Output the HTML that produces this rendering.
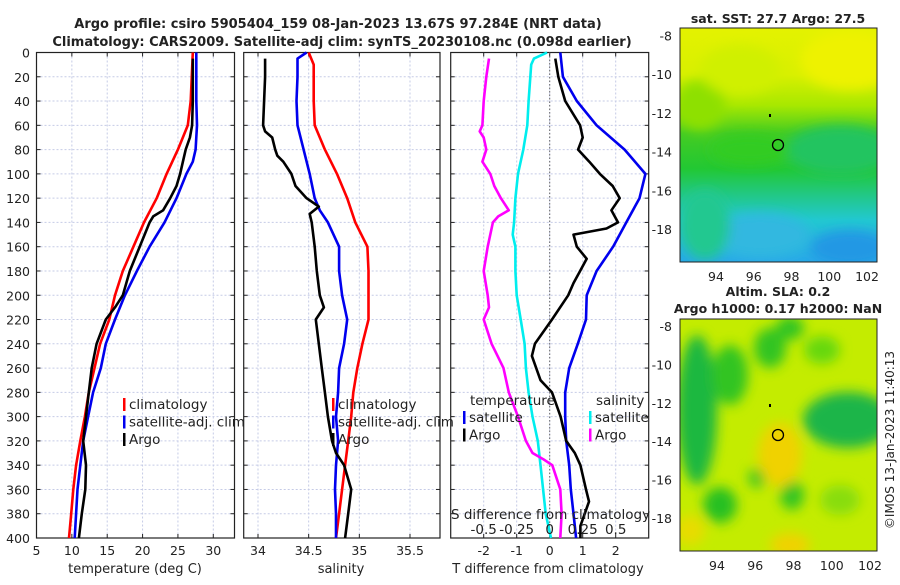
<!DOCTYPE html>
<html><head><meta charset="utf-8"><style>
body{margin:0;background:#fff;width:900px;height:580px;overflow:hidden}
svg text{font-family:"DejaVu Sans","Liberation Sans",sans-serif;fill:#222}
</style></head><body>
<svg id="c" width="900" height="580" viewBox="0 0 900 580">
<defs>
<filter id="bl" x="-20%" y="-20%" width="140%" height="140%"><feGaussianBlur stdDeviation="6"/></filter>
<clipPath id="m1"><rect x="680" y="28" width="197" height="234"/></clipPath>
<clipPath id="m2"><rect x="680" y="319" width="197" height="232"/></clipPath>
<linearGradient id="g1" x1="0" y1="0" x2="0" y2="1">
<stop offset="0" stop-color="#e4f200"/><stop offset="0.2" stop-color="#d8f000"/><stop offset="0.33" stop-color="#a8e800"/><stop offset="0.45" stop-color="#44cc22"/><stop offset="0.6" stop-color="#22c833"/><stop offset="0.72" stop-color="#22c88a"/><stop offset="0.82" stop-color="#22c8d0"/><stop offset="1" stop-color="#28a8e8"/></linearGradient>
</defs>
<text x="338" y="28" text-anchor="middle" font-size="13" font-weight="bold">Argo profile: csiro 5905404_159 08-Jan-2023 13.67S 97.284E (NRT data)</text>
<text x="342" y="46" text-anchor="middle" font-size="13" font-weight="bold">Climatology: CARS2009. Satellite-adj clim: synTS_20230108.nc (0.098d earlier)</text>
<g id="plots"></g>
<g>
<text x="778" y="23" text-anchor="middle" font-size="12.5" font-weight="bold">sat. SST: 27.7 Argo: 27.5</text>
<g clip-path="url(#m1)">
<rect x="680" y="28" width="197" height="234" fill="url(#g1)"/>
<g filter="url(#bl)">
<ellipse cx="700" cy="105" rx="25" ry="25" fill="#8ee000"/>
<ellipse cx="850" cy="60" rx="50" ry="30" fill="#eef200"/>
<ellipse cx="740" cy="70" rx="40" ry="25" fill="#d0f000"/>
<ellipse cx="840" cy="150" rx="55" ry="25" fill="#22c460"/>
<ellipse cx="750" cy="150" rx="40" ry="15" fill="#33cc22"/>
<ellipse cx="760" cy="235" rx="50" ry="22" fill="#30b8e0"/>
<ellipse cx="850" cy="248" rx="40" ry="18" fill="#2298e4"/>
<ellipse cx="705" cy="225" rx="25" ry="35" fill="#22c890"/>
</g></g>
<rect x="680" y="28" width="197" height="234" fill="none" stroke="#222"/>
<circle cx="778" cy="145" r="5.5" fill="none" stroke="#000" stroke-width="1.3"/>
<rect x="769" y="114" width="2" height="3" fill="#000"/>
</g>
<g>
<text x="778" y="296" text-anchor="middle" font-size="12.5" font-weight="bold">Altim. SLA: 0.2</text>
<text x="778" y="313" text-anchor="middle" font-size="12.5" font-weight="bold">Argo h1000: 0.17 h2000: NaN</text>
<g clip-path="url(#m2)">
<rect x="680" y="319" width="197" height="232" fill="#c4ec00"/>
<g filter="url(#bl)">
<ellipse cx="697" cy="410" rx="20" ry="75" fill="#1fb840"/>
<ellipse cx="730" cy="375" rx="18" ry="30" fill="#33c422"/>
<ellipse cx="770" cy="348" rx="16" ry="20" fill="#33c422"/>
<ellipse cx="790" cy="328" rx="14" ry="12" fill="#33c422"/>
<ellipse cx="822" cy="350" rx="18" ry="14" fill="#66d811"/>
<ellipse cx="848" cy="420" rx="45" ry="28" fill="#1fb548"/>
<ellipse cx="720" cy="505" rx="17" ry="18" fill="#28c022"/>
<ellipse cx="792" cy="495" rx="12" ry="15" fill="#33c422"/>
<ellipse cx="757" cy="478" rx="9" ry="10" fill="#44c822"/>
<ellipse cx="780" cy="455" rx="22" ry="32" fill="#f0d200"/>
<ellipse cx="790" cy="545" rx="20" ry="12" fill="#f0d200"/>
<ellipse cx="690" cy="530" rx="15" ry="15" fill="#e8dc00"/>
<ellipse cx="840" cy="500" rx="20" ry="15" fill="#88dd11"/>
</g></g>
<rect x="680" y="319" width="197" height="232" fill="none" stroke="#222"/>
<circle cx="778" cy="435" r="5.5" fill="none" stroke="#000" stroke-width="1.3"/>
<rect x="769" y="404" width="2" height="3" fill="#000"/>
</g>
<text transform="translate(894,440) rotate(-90)" text-anchor="middle" font-size="12">©IMOS 13-Jan-2023 11:40:13</text>
</svg>
<script>
const depthTicks=[0,20,40,60,80,100,120,140,160,180,200,220,240,260,280,300,320,340,360,380,400];
const tempTicks=[5,10,15,20,25,30];
const salTicks=[34,34.5,35,35.5];
const salTickLabels=["34","34.5","35","35.5"];
const diffTicks=[-2,-1,0,1,2];
const sdiffTicks=[-0.5,-0.25,0,0.25,0.5];
const sdiffTickLabels=["-0.5","-0.25","0","0.25","0.5"];
const latTicks=[-8,-10,-12,-14,-16,-18];
const lonTicks=[94,96,98,100,102];
const climTD=[0,40,60,80,100,120,140,160,180,200,220,240,260,280,300,320,340,360,380,400];
const climT=[27.1,26.8,26.4,25,23.4,22,20.2,18.7,17.2,16.1,15.3,14.0,13.2,12.4,11.85,11.2,10.6,10.2,9.9,9.6];
const satTD=[0,40,60,80,90,100,120,140,160,180,200,220,240,260,280,300,320,340,360,380,400];
const satT=[27.6,27.6,27.7,27.5,27.1,26.2,24.8,23.1,21,19.2,17.5,16.1,14.8,14.1,13,12.3,11.6,11.2,10.8,10.6,10.4];
const argoTD=[5,40,60,70,80,90,100,110,120,130,135,140,160,180,200,210,220,240,260,280,300,320,335,340,360,380,400];
const argoT=[27.1,27.1,27.0,26.7,26.1,25.7,25.3,24.8,23.9,22.9,21.5,21,19.6,18.2,17.2,16.1,14.8,13.5,12.8,12.4,12,11.6,11.9,12,11.9,11.4,11];
const climSD=[0,10,40,60,80,100,120,140,160,180,200,220,240,260,280,300,320,340,360,380,400];
const climS=[34.5,34.55,34.55,34.56,34.66,34.78,34.88,34.96,35.08,35.09,35.09,35.09,35.03,34.98,34.94,34.92,34.89,34.86,34.83,34.8,34.77];
const satSD=[0,5,20,40,60,80,100,120,130,140,160,180,200,220,240,260,280,300,320,340,360,380,400];
const satS=[34.48,34.39,34.39,34.38,34.39,34.45,34.51,34.56,34.61,34.69,34.8,34.8,34.83,34.88,34.85,34.8,34.79,34.77,34.79,34.77,34.76,34.77,34.77];
const argoSD=[5,20,60,65,70,80,85,90,100,110,120,127,133,140,160,180,200,210,220,240,260,280,300,320,330,340,360,380,400];
const argoS=[34.07,34.07,34.05,34.07,34.14,34.17,34.19,34.25,34.33,34.37,34.48,34.6,34.51,34.53,34.56,34.58,34.61,34.65,34.57,34.6,34.63,34.66,34.69,34.73,34.77,34.85,34.92,34.89,34.86];
const dSatTD=[0,20,40,60,80,100,120,140,160,180,200,220,240,260,280,300,320,340,360,380,400];
const dSatT=[0.32,0.4,0.82,1.42,2.27,2.9,2.72,2.32,1.92,1.42,1.12,1.1,0.85,0.59,0.47,0.47,0.5,0.59,0.64,0.72,0.8];
const dArgoTD=[5,20,40,60,70,80,90,100,110,120,130,140,145,150,160,170,180,190,200,220,240,250,270,280,300,320,330,340,360,370,390,400];
const dArgoT=[0.17,0.26,0.47,0.92,1.0,0.86,1.2,1.52,1.91,2.12,1.87,2.07,1.72,0.72,0.82,1.12,0.92,0.72,0.56,0.07,-0.45,-0.54,-0.28,0.07,0.33,0.5,0.76,0.93,1.1,1.19,0.93,0.93];
const dSatSD=[0,5,10,40,60,80,100,120,140,150,160,180,200,220,240,260,280,300,320,340,360,380,400];
const dSatS=[-0.02,-0.12,-0.14,-0.16,-0.17,-0.2,-0.24,-0.26,-0.27,-0.28,-0.26,-0.26,-0.25,-0.22,-0.19,-0.18,-0.16,-0.13,-0.09,-0.07,-0.05,-0.03,0.01];
const dArgoSD=[5,20,40,60,65,70,80,90,100,110,120,130,135,140,160,180,200,210,220,240,260,280,300,320,330,335,340,350,360,380,400];
const dArgoS=[-0.46,-0.48,-0.5,-0.51,-0.53,-0.5,-0.48,-0.51,-0.45,-0.42,-0.37,-0.31,-0.39,-0.43,-0.47,-0.5,-0.47,-0.46,-0.5,-0.44,-0.35,-0.31,-0.24,-0.18,-0.13,-0.05,0.02,0.05,0.08,0.09,0.08];

const NS='http://www.w3.org/2000/svg';
const root=document.getElementById('plots');
function mk(tag,at,parent){const e=document.createElementNS(NS,tag);for(const k in at)e.setAttribute(k,at[k]);(parent||root).appendChild(e);return e;}
const Y0=52.5,Y1=538;
const yD=d=>Y0+(Y1-Y0)*d/400;
function lin(d0,d1,p0,p1){return v=>p0+(v-d0)*(p1-p0)/(d1-d0);}
const P=[
 {x0:36.5,x1:234.5,sx:lin(5,33,36.5,234.5),name:'temperature-panel'},
 {x0:243.7,x1:440,sx:lin(34,35.5,258,410),name:'salinity-panel'},
 {x0:450.7,x1:648.7,sx:lin(-3,3,450.7,648.7),name:'difference-panel'}];
const sxS=lin(-0.75,0.75,450.7,648.7);

function txt(x,y,s,o,name){const t=mk('text',Object.assign({x:x,y:y,'font-size':12.5},o||{}));t.textContent=s;

return t;}

function panelFrame(p,xt,xl){
 const g=mk('g',{});
 
 
 depthTicks.forEach(d=>{const l=mk('line',{x1:p.x0,x2:p.x1,y1:yD(d),y2:yD(d),stroke:'#c5cbe6','stroke-dasharray':'2,2','stroke-width':1},g);
  
  
  mk('line',{x1:p.x0,x2:p.x0+4,y1:yD(d),y2:yD(d),stroke:'#222'},g);mk('line',{x1:p.x1-4,x2:p.x1,y1:yD(d),y2:yD(d),stroke:'#222'},g);});
 xt.forEach((v,i)=>{const x=p.sx(v);const l=mk('line',{x1:x,x2:x,y1:Y0,y2:Y1,stroke:'#c5cbe6','stroke-dasharray':'2,2'},g);
  
  
  mk('line',{x1:x,x2:x,y1:Y1-4,y2:Y1,stroke:'#222'},g);mk('line',{x1:x,x2:x,y1:Y0,y2:Y0+4,stroke:'#222'},g);
  txt(x,555,xl[i],{'text-anchor':'middle'},'x-tick-label');});
 const r=mk('rect',{x:p.x0,y:Y0,width:p.x1-p.x0,height:Y1-Y0,fill:'none',stroke:'#222','stroke-width':1.2},g);
 
 
 return g;
}
function series(xs,ds,sx,col,name){let d='';xs.forEach((v,i)=>{d+=(i?'L':'M')+sx(v).toFixed(1)+','+yD(ds[i]).toFixed(1);});
 const p=mk('path',{d:d,fill:'none',stroke:col,'stroke-width':2.6,'stroke-linejoin':'round'});
 
 }
const LF={'font-size':13.5,'font-family':'Liberation Sans Narrow, Liberation Sans, sans-serif'};
function legend(x,y,items){items.forEach((it,i)=>{const yy=y+i*17.5;mk('rect',{x:x,y:yy-11,width:2.5,height:13,fill:it[1]});
 txt(x+6,yy,it[0],LF,'legend-entry');});}

panelFrame(P[0],tempTicks,tempTicks.map(String));
depthTicks.forEach(d=>txt(30,yD(d)+5,String(d),{'text-anchor':'end'},'depth-tick-label'));
series(climT,climTD,P[0].sx,'#ff0000','temp-climatology-line');
series(satT,satTD,P[0].sx,'#0000ee','temp-satellite-line');
series(argoT,argoTD,P[0].sx,'#000','temp-argo-line');
txt(135,573,'temperature (deg C)',{'text-anchor':'middle','font-size':13},'temp-axis-title');
legend(123,409,[['climatology','#ff0000'],['satellite-adj. clim','#0000ee'],['Argo','#000']]);

panelFrame(P[1],salTicks,salTickLabels);
series(climS,climSD,P[1].sx,'#ff0000','sal-climatology-line');
series(satS,satSD,P[1].sx,'#0000ee','sal-satellite-line');
series(argoS,argoSD,P[1].sx,'#000','sal-argo-line');
txt(341,573,'salinity',{'text-anchor':'middle','font-size':13},'sal-axis-title');
legend(332,409,[['climatology','#ff0000'],['satellite-adj. clim','#0000ee'],['Argo','#000']]);

panelFrame(P[2],diffTicks,diffTicks.map(String));
const z=mk('line',{x1:P[2].sx(0),x2:P[2].sx(0),y1:Y0,y2:Y1,stroke:'#666','stroke-dasharray':'1.5,2'});


series(dSatS,dSatSD,sxS,'#00eeee','sdiff-satellite-line');
series(dArgoS,dArgoSD,sxS,'#ff00ff','sdiff-argo-line');
series(dSatT,dSatTD,P[2].sx,'#0000ee','tdiff-satellite-line');
series(dArgoT,dArgoTD,P[2].sx,'#000','tdiff-argo-line');
txt(548,573,'T difference from climatology',{'text-anchor':'middle','font-size':13},'tdiff-axis-title');
txt(451,519,'S difference from climatology',LF,'sdiff-axis-title');
sdiffTicks.forEach((v,i)=>txt(sxS(v),534,sdiffTickLabels[i],Object.assign({'text-anchor':'middle'},LF),'sdiff-tick-label'));
txt(470,405,'temperature',LF,'legend-header');
txt(596,405,'salinity',LF,'legend-header');
legend(463,422,[['satellite','#0000ee'],['Argo','#000']]);
legend(589,422,[['satellite','#00eeee'],['Argo','#ff00ff']]);

const lonX1=lin(94,102,716,867), lonX2=lin(94,102,717,870);
const latY1=lin(-10,-18,74,229), latY2=lin(-8,-18,326,518);
function mapAxes(lx,ly,ybase,yT,yB){
 latTicks.forEach(v=>{const y=ly(v);txt(672,y+5,String(v),{'text-anchor':'end'},'lat-tick-label');
  mk('line',{x1:680,x2:683,y1:y,y2:y,stroke:'#222'});mk('line',{x1:874,x2:877,y1:y,y2:y,stroke:'#222'});});
 lonTicks.forEach(v=>{const x=lx(v);txt(x,ybase,String(v),{'text-anchor':'middle'},'lon-tick-label');
  mk('line',{x1:x,x2:x,y1:yB-3,y2:yB,stroke:'#222'});mk('line',{x1:x,x2:x,y1:yT,y2:yT+3,stroke:'#222'});});
}
mapAxes(lonX1,latY1,281,28,262);
mapAxes(lonX2,latY2,570,319,551);
</script>
</body></html>
